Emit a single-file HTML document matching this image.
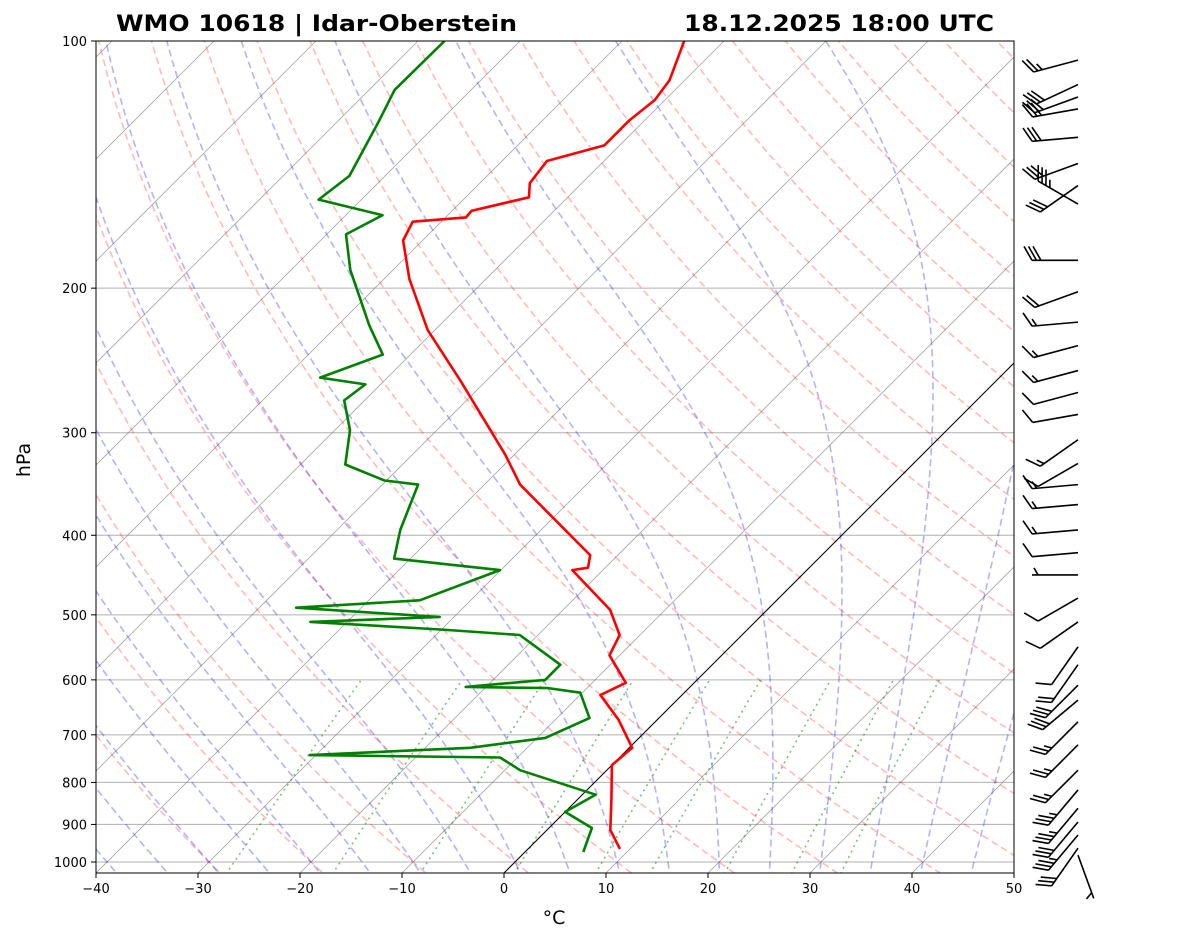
<!DOCTYPE html>
<html><head><meta charset="utf-8"><style>
html,body{margin:0;padding:0;background:#fff;}
svg text{font-family:"DejaVu Sans","Liberation Sans",sans-serif;}
</style></head><body>
<svg id="chart" width="1181" height="941" viewBox="0 0 1181 941" xmlns="http://www.w3.org/2000/svg">
<defs><clipPath id="plotclip"><rect x="96" y="41" width="918" height="832"/></clipPath></defs>
<rect x="0" y="0" width="1181" height="941" fill="#fff"/>
<g id="bg" clip-path="url(#plotclip)"></g>
<g id="data" clip-path="url(#plotclip)"></g>
<rect x="96" y="41" width="918" height="832" fill="none" stroke="#000" stroke-width="1"/>
<g id="axes"></g>
<g id="barbs"></g>
<text x="116" y="31" font-size="22" font-weight="bold" textLength="401" lengthAdjust="spacingAndGlyphs">WMO 10618 | Idar-Oberstein</text>
<text x="684" y="31" font-size="22" font-weight="bold" textLength="310" lengthAdjust="spacingAndGlyphs">18.12.2025 18:00 UTC</text>
<text x="554" y="924" font-size="19" text-anchor="middle">°C</text>
<text x="30" y="460" font-size="19" text-anchor="middle" transform="rotate(-90 30 460)">hPa</text>
</svg>
<script>
// ---- data ----
const tempP = [964,914,841,762,726,671,626,605,560,529,493,441,438,423,347,319,259,225,195,175,166,164,161,155,149,140,134,125,118,111.6,100];
const tempT = [9.0,6.2,3.4,0.0,0.3,-3.8,-8.0,-6.7,-11,-12,-15.4,-23,-21.7,-22.7,-36.5,-40.9,-52.6,-60.7,-67.5,-71.9,-72.8,-68,-68.1,-63.8,-65.1,-65.6,-61.5,-61.5,-61,-61.5,-63.9];
const dewP = [972,909,869,828,773,746,741,726,706,668,622,614,612,600,575,529,521,510,503,490,480,441,427,394,347,343,328,298,274,262,257,241,222,190,172,163,156,146,125,114.7,100];
const dewT = [5.7,4.2,0.0,1.3,-8.5,-11.7,-30.6,-15.6,-9.2,-6.8,-10.2,-13.8,-22,-14.9,-14.9,-21.8,-30.1,-43.6,-31.4,-46.4,-35,-30.1,-41.6,-43.8,-46.5,-50.2,-55.6,-58.5,-62,-61.5,-66.6,-62.7,-66.9,-74.2,-78.1,-76.4,-84.2,-83.5,-86,-87.5,-87.4];
const windP = [105.5,113,117,121,131,141,150,158,185,202,220,235,252,268,285,306,327,347,367,394,420,447,477,510,547,575,609,635,675,720,773,817,860,894,927,962,981];
const windDir = [255,245,250,260,265,250,235,300,270,250,265,255,255,255,260,235,240,265,265,265,265,270,240,235,215,215,225,230,225,225,225,220,220,220,220,215,160];
const windSpd = [25,30,30,30,30,30,30,35,30,20,15,15,15,10,10,15,10,15,15,15,10,5,10,10,10,20,30,30,25,25,25,35,35,30,35,30,5];
const xTicks = [-40,-30,-20,-10,0,10,20,30,40,50];
const pTicks = [100,200,300,400,500,600,700,800,900,1000];

// ---- axes functions ----
const X0=96,X1=1014,YT=41,YB=873,PPD=821,KPX=10.2;
function yP(p){return YT+PPD*Math.log10(p/100);}
function xT(T,p){return X0+(T+40)*KPX+(YB-yP(p));}
const NS="http://www.w3.org/2000/svg";
function mk(tag,attrs,parent){const e=document.createElementNS(NS,tag);for(const k in attrs)e.setAttribute(k,attrs[k]);parent.appendChild(e);return e;}
const bg=document.getElementById('bg'),dg=document.getElementById('data'),ax=document.getElementById('axes'),bb=document.getElementById('barbs');
function pathFrom(pts){return pts.map((q,i)=>(i?'L':'M')+q[0].toFixed(1)+' '+q[1].toFixed(1)).join(' ');}
const pLevels=[];for(let p=1050;p>=99;p-=10)pLevels.push(p);

// horizontal grid
pTicks.forEach(p=>{const y=yP(p);
 const l=mk('line',{x1:X0,x2:X1,y1:y,y2:y,stroke:'#b0b0b0','stroke-width':1},bg);
 });
// isotherms
for(let T=-170;T<=50;T+=10){
 const l=mk('line',{x1:xT(T,1050),y1:yP(1050),x2:xT(T,100),y2:yP(100),stroke:'#808080','stroke-width':0.8,'stroke-opacity':0.7},bg);
 }
// dry adiabats
for(let th=-30;th<200;th+=10){
 const pts=pLevels.map(p=>{const T=(th+273.15)*Math.pow(p/1000,0.2857)-273.15;return [xT(T,p),yP(p)];});
 const e=mk('path',{d:pathFrom(pts),fill:'none',stroke:'#ff0000','stroke-opacity':0.27,'stroke-width':1.6,'stroke-dasharray':'7,4'},bg);
 }
// moist adiabats
function es(T){return 6.112*Math.exp(17.67*T/(T+243.5));}
function dTdp(T,p){const Tk=T+273.15,rs=0.622*es(T)/(p-es(T));const Rd=287.04,cp=1005.7,Lv=2.501e6;
 return (Rd*Tk+Lv*rs)/(cp+Lv*Lv*rs*0.622/(Rd*Tk*Tk))/p;}
for(let t0=-40;t0<=45;t0+=5){
 let pts=[];let T=t0;
 for(let p=1000;p>=100;p-=5){pts.push([xT(T,p),yP(p)]);T-=dTdp(T,p)*5;}
 T=t0;const down=[];for(let p=1000;p<=1050;p+=5){down.unshift([xT(T,p),yP(p)]);T+=dTdp(T,p)*5;}
 pts=down.concat(pts);
 const e=mk('path',{d:pathFrom(pts),fill:'none',stroke:'#0000ff','stroke-opacity':0.3,'stroke-width':1.6,'stroke-dasharray':'7,4'},bg);
 }
// mixing ratio lines
[0.0004,0.001,0.002,0.004,0.007,0.01,0.016,0.024,0.032].forEach(w=>{
 const pts=[];for(let p=1050;p>=600;p-=10){const e=p*w/(0.622+w),L=Math.log(e/6.112);const Td=243.5*L/(17.67-L);pts.push([xT(Td,p),yP(p)]);}
 const e=mk('path',{d:pathFrom(pts),fill:'none',stroke:'#008000','stroke-opacity':0.5,'stroke-width':1.6,'stroke-dasharray':'2,4'},bg);
 });
// 0C isotherm
const z=mk('line',{x1:xT(0,1050),y1:yP(1050),x2:xT(0,100),y2:yP(100),stroke:'#000','stroke-width':1},bg);


// profiles
const tp=mk('path',{d:pathFrom(tempP.map((p,i)=>[xT(tempT[i],p),yP(p)])),fill:'none',stroke:'#ff0000','stroke-width':2.6,'stroke-linejoin':'round'},dg);

const dp=mk('path',{d:pathFrom(dewP.map((p,i)=>[xT(dewT[i],p),yP(p)])),fill:'none',stroke:'#008000','stroke-width':2.6,'stroke-linejoin':'round'},dg);


// ticks
xTicks.forEach(T=>{const x=X0+(T+40)*KPX;
 mk('line',{x1:x,x2:x,y1:YB,y2:YB+5,stroke:'#000'},ax);
 const t=mk('text',{x:x,y:YB+20,'font-size':13,'text-anchor':'middle'},ax);t.textContent=T<0?'\u2212'+(-T):T;
 });
pTicks.forEach(p=>{const y=yP(p);
 mk('line',{x1:X0-5,x2:X0,y1:y,y2:y,stroke:'#000'},ax);
 const t=mk('text',{x:X0-9,y:y+5,'font-size':13,'text-anchor':'end'},ax);t.textContent=p;
 });

// wind barbs
windP.forEach((p,i)=>{
 const ox=1078,oy=yP(p),L=46,d=windDir[i]*Math.PI/180;
 const sx=Math.sin(d),sy=-Math.cos(d);
 const fx=-sy,fy=sx; // feather direction (perpendicular)
 const g=mk('g',{stroke:'#000','stroke-width':1.6,fill:'none'},bb);
 
 const ex=ox+sx*L,ey=oy+sy*L;
 mk('line',{x1:ox,y1:oy,x2:ex,y2:ey},g);
 let s=Math.round(windSpd[i]/5)*5,pos=0;
 const full=Math.floor(s/10),half=(s%10)>=5?1:0;
 for(let k=0;k<full;k++){const bx=ex-sx*pos,by=ey-sy*pos;
  mk('line',{x1:bx,y1:by,x2:bx+fx*14+sx*8,y2:by+fy*14+sy*8},g);pos+=4.5;}
 if(half){if(full===0)pos=6;const bx=ex-sx*pos,by=ey-sy*pos;
  mk('line',{x1:bx,y1:by,x2:bx+fx*7+sx*4,y2:by+fy*7+sy*4},g);}
});
</script>
</body></html>
